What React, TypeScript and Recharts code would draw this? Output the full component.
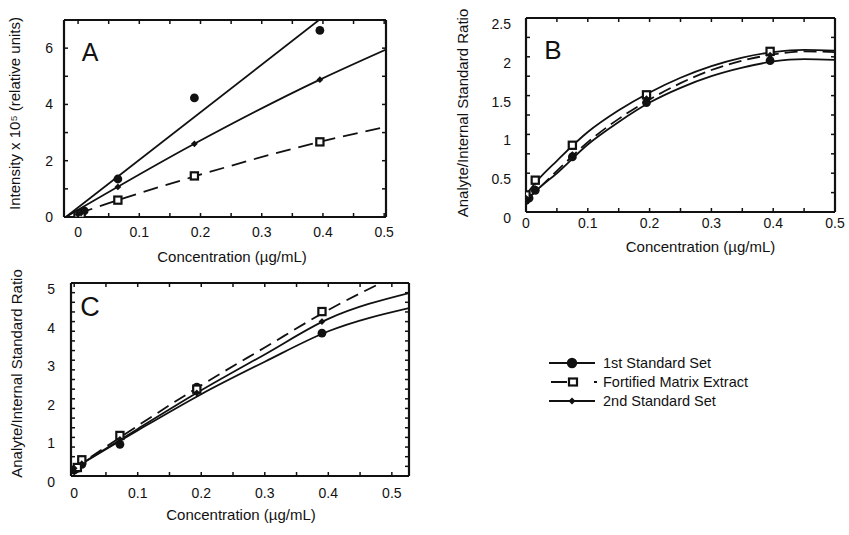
import React from 'react';
import { ComposedChart, Line, Scatter, XAxis, YAxis } from 'recharts';

const FONT = "'Liberation Sans', Arial, Helvetica, sans-serif";
const INK = '#111';

// ---------- text ----------
const seriesNames = ['1st Standard Set', 'Fortified Matrix Extract', '2nd Standard Set'];
const panelLetters = ['A', 'B', 'C'];
const xTitle = 'Concentration (µg/mL)';
const yTitleA = 'Intensity x 10⁵ (relative units)';
const yTitleBC = 'Analyte/Internal Standard Ratio';

// ---------- ticks ----------
const xMajor = [0, 0.1, 0.2, 0.3, 0.4, 0.5];
const xMajorLabels = ['0', '0.1', '0.2', '0.3', '0.4', '0.5'];
const xMinor = [0.05, 0.15, 0.25, 0.35, 0.45];

const aYMajor = [0, 2, 4, 6];
const aYMajorLabels = ['0', '2', '4', '6'];
const aYMinor = [1, 3, 5];

const bYMajor = [0, 0.5, 1, 1.5, 2, 2.5];
const bYMajorLabels = ['0', '0.5', '1', '1.5', '2', '2.5'];
const bYMinor = [0.25, 0.75, 1.25, 1.75, 2.25];

const cYMajor = [0, 1, 2, 3, 4, 5];
const cYMajorLabels = ['0', '1', '2', '3', '4', '5'];
const cYMinor = [0.25, 0.5, 0.75, 1.25, 1.5, 1.75, 2.25, 2.5, 2.75, 3.25, 3.5, 3.75, 4.25, 4.5, 4.75];

// ---------- panel A ----------
const aFirstX = [0, 0.005, 0.01, 0.065, 0.19, 0.395];
const aFirstY = [0.08, 0.15, 0.22, 1.35, 4.23, 6.63];
const aFortX = [0, 0.005, 0.065, 0.19, 0.395];
const aFortY = [0.06, 0.1, 0.6, 1.46, 2.67];
const aSecondX = [0, 0.005, 0.01, 0.065, 0.19, 0.395];
const aSecondY = [0.1, 0.14, 0.2, 1.07, 2.6, 4.88];
const aFirstFitX = [-0.02, 0.5];
const aFirstFitY = [0, 8.8];
const aFortFitX = [0, 0.065, 0.19, 0.395, 0.503];
const aFortFitY = [0.12, 0.6, 1.44, 2.67, 3.2];
const aSecondFitX = [-0.02, 0.19, 0.395, 0.503];
const aSecondFitY = [0, 2.6, 4.88, 5.95];

// ---------- panel B ----------
const bFirstX = [0, 0.005, 0.015, 0.075, 0.195, 0.395];
const bFirstY = [0.15, 0.18, 0.28, 0.71, 1.41, 1.95];
const bFortX = [0, 0.015, 0.075, 0.195, 0.395];
const bFortY = [0.22, 0.41, 0.86, 1.51, 2.07];
const bSecondX = [0, 0.015, 0.075, 0.195, 0.395];
const bSecondY = [0.18, 0.3, 0.74, 1.46, 2.02];
const bFitX = [0, 0.02, 0.05, 0.1, 0.15, 0.2, 0.25, 0.3, 0.35, 0.4, 0.45, 0.5];
const bFirstFitY = [0.15, 0.3, 0.5, 0.87, 1.16, 1.41, 1.6, 1.75, 1.86, 1.94, 1.97, 1.96];
const bFortFitY = [0.15, 0.3, 0.53, 0.9, 1.2, 1.45, 1.66, 1.83, 1.95, 2.03, 2.07, 2.06];
const bSecondFitY = [0.22, 0.42, 0.66, 1.03, 1.31, 1.54, 1.73, 1.88, 1.99, 2.06, 2.09, 2.08];

// ---------- panel C ----------
const cFirstX = [0, 0.005, 0.012, 0.072, 0.193, 0.39];
const cFirstY = [0.15, 0.2, 0.3, 0.82, 2.3, 3.7];
const cFortX = [0.005, 0.012, 0.072, 0.193, 0.39];
const cFortY = [0.22, 0.42, 1.05, 2.25, 4.26];
const cSecondX = [0, 0.012, 0.072, 0.193, 0.39];
const cSecondY = [0.2, 0.32, 0.95, 2.15, 4.0];
const cFitX = [0, 0.1, 0.2, 0.3, 0.4, 0.527];
const cFirstFitY = [0.2, 1.18, 2.12, 2.96, 3.75, 4.35];
const cFortFitY = [0.2, 1.3, 2.35, 3.33, 4.3, 5.35];
const cSecondFitY = [0.2, 1.22, 2.22, 3.15, 4.07, 4.74];

type Pt = { x: number; y: number };
const zip = (xs: number[], ys: number[]): Pt[] => xs.map((x, i) => ({ x, y: ys[i] }));

const CircleDot = (p: any) => <circle cx={p.cx} cy={p.cy} r={4.4} fill={INK} />;
const SquareDot = (p: any) => (
  <rect x={p.cx - 3.6} y={p.cy - 3.6} width={7.2} height={7.2} fill="#fff" stroke={INK} strokeWidth={2.2} />
);
const DiamondDot = (p: any) => {
  const s = 3.4;
  return (
    <polygon
      points={`${p.cx},${p.cy - s} ${p.cx + s},${p.cy} ${p.cx},${p.cy + s} ${p.cx - s},${p.cy}`}
      fill={INK}
    />
  );
};

interface PanelProps {
  left: number;
  top: number;
  width: number;
  height: number;
  margin: { top: number; right: number; bottom: number; left: number };
  yWidth: number;
  xHeight: number;
  xDomain: [number, number];
  yDomain: [number, number];
  yMajor: number[];
  yLabels: string[];
  yMinor: number[];
  yTitle: string;
  yTitleOffset: number;
  yTitleDy: number;
  xTitleOffset: number;
  xTitleDx: number;
  xTickMargin: number;
  yTickMargin: number;
  yTickDy: number;
  dash: string;
  fits: { data: Pt[]; dashed: boolean }[];
  points: { data: Pt[]; shape: any }[];
}

const axisLine = { stroke: INK, strokeWidth: 2.2 };
const tickLine = { stroke: INK, strokeWidth: 1.5 };

function Panel(p: PanelProps) {
  const xTicks = [...xMajor, ...xMinor].sort((a, b) => a - b);
  const yTicks = [...p.yMajor, ...p.yMinor].sort((a, b) => a - b);
  const fmtX = (v: number) => {
    const i = xMajor.indexOf(v);
    return i >= 0 ? xMajorLabels[i] : '';
  };
  const fmtY = (v: number) => {
    const i = p.yMajor.indexOf(v);
    return i >= 0 ? p.yLabels[i] : '';
  };
  const blank = () => '';
  const tickStyle = { fill: INK, fontSize: 14, fontFamily: FONT };
  return (
    <div style={{ position: 'absolute', left: p.left, top: p.top, width: p.width, height: p.height }}>
      <ComposedChart width={p.width} height={p.height} margin={p.margin}>
        <XAxis
          xAxisId="b"
          dataKey="x"
          type="number"
          domain={p.xDomain}
          allowDataOverflow
          ticks={xTicks}
          interval={0}
          tickFormatter={fmtX}
          tickSize={-4}
          tickMargin={p.xTickMargin}
          height={p.xHeight}
          axisLine={axisLine}
          tickLine={tickLine}
          tick={tickStyle}
          label={{
            value: xTitle,
            position: 'insideBottom',
            offset: p.xTitleOffset,
            dx: p.xTitleDx,
            style: { fill: INK, fontSize: 15, fontFamily: FONT },
          }}
        />
        <XAxis
          xAxisId="t"
          orientation="top"
          mirror
          dataKey="x"
          type="number"
          domain={p.xDomain}
          allowDataOverflow
          ticks={xTicks}
          interval={0}
          tickFormatter={blank}
          tickSize={4}
          axisLine={axisLine}
          tickLine={tickLine}
        />
        <YAxis
          yAxisId="l"
          dataKey="y"
          type="number"
          domain={p.yDomain}
          allowDataOverflow
          ticks={yTicks}
          interval={0}
          tickFormatter={fmtY}
          tickSize={-4}
          tickMargin={p.yTickMargin}
          width={p.yWidth}
          axisLine={axisLine}
          tickLine={tickLine}
          tick={{ ...tickStyle, dy: p.yTickDy }}
          label={{
            value: p.yTitle,
            position: 'insideLeft',
            angle: -90,
            offset: p.yTitleOffset,
            dy: p.yTitleDy,
            style: { fill: INK, fontSize: 15, fontFamily: FONT, textAnchor: 'middle' },
          }}
        />
        <YAxis
          yAxisId="r"
          orientation="right"
          mirror
          dataKey="y"
          type="number"
          domain={p.yDomain}
          allowDataOverflow
          ticks={yTicks}
          interval={0}
          tickFormatter={blank}
          tickSize={4}
          axisLine={axisLine}
          tickLine={tickLine}
        />
        {p.fits.map((f, i) => (
          <Line
            key={'f' + i}
            xAxisId="b"
            yAxisId="l"
            data={f.data}
            dataKey="y"
            type="monotone"
            stroke={INK}
            strokeWidth={1.8}
            strokeDasharray={f.dashed ? p.dash : undefined}
            dot={false}
            activeDot={false}
            isAnimationActive={false}
          />
        ))}
        {p.points.map((s, i) => (
          <Scatter
            key={'s' + i}
            xAxisId="b"
            yAxisId="l"
            data={s.data}
            dataKey="y"
            shape={s.shape}
            isAnimationActive={false}
          />
        ))}
      </ComposedChart>
    </div>
  );
}

export default function App() {
  return (
    <div
      style={{
        position: 'absolute',
        left: 0,
        top: 0,
        width: 849,
        height: 535,
        background: '#fff',
        overflow: 'hidden',
        fontFamily: FONT,
      }}
    >
      <Panel
        left={0}
        top={0}
        width={400}
        height={275}
        margin={{ top: 20, right: 14, bottom: 0, left: 0 }}
        yWidth={64}
        xHeight={58}
        xDomain={[-0.023, 0.503]}
        yDomain={[0, 7]}
        yMajor={aYMajor}
        yLabels={aYMajorLabels}
        yMinor={aYMinor}
        yTitle={yTitleA}
        yTitleOffset={15}
        yTitleDy={-5}
        xTitleOffset={13}
        xTitleDx={7}
        xTickMargin={14}
        yTickMargin={15}
        yTickDy={0}
        dash="15 8"
        fits={[
          { data: zip(aFirstFitX, aFirstFitY), dashed: false },
          { data: zip(aFortFitX, aFortFitY), dashed: true },
          { data: zip(aSecondFitX, aSecondFitY), dashed: false },
        ]}
        points={[
          { data: zip(aFirstX, aFirstY), shape: CircleDot },
          { data: zip(aFortX, aFortY), shape: SquareDot },
          { data: zip(aSecondX, aSecondY), shape: DiamondDot },
        ]}
      />
      <Panel
        left={440}
        top={0}
        width={409}
        height={260}
        margin={{ top: 18, right: 14, bottom: 0, left: 0 }}
        yWidth={86}
        xHeight={48}
        xDomain={[0, 0.5]}
        yDomain={[0, 2.5]}
        yMajor={bYMajor}
        yLabels={bYMajorLabels}
        yMinor={bYMinor}
        yTitle={yTitleBC}
        yTitleOffset={23}
        yTitleDy={-2}
        xTitleOffset={8}
        xTitleDx={20}
        xTickMargin={10}
        yTickMargin={19}
        yTickDy={6}
        dash="13 6"
        fits={[
          { data: zip(bFitX, bFirstFitY), dashed: false },
          { data: zip(bFitX, bFortFitY), dashed: true },
          { data: zip(bFitX, bSecondFitY), dashed: false },
        ]}
        points={[
          { data: zip(bFirstX, bFirstY), shape: CircleDot },
          { data: zip(bFortX, bFortY), shape: SquareDot },
          { data: zip(bSecondX, bSecondY), shape: DiamondDot },
        ]}
      />
      <Panel
        left={0}
        top={265}
        width={420}
        height={270}
        margin={{ top: 18, right: 11, bottom: 0, left: 0 }}
        yWidth={71}
        xHeight={59}
        xDomain={[-0.005, 0.527]}
        yDomain={[0, 5]}
        yMajor={cYMajor}
        yLabels={cYMajorLabels}
        yMinor={cYMinor}
        yTitle={yTitleBC}
        yTitleOffset={17}
        yTitleDy={-6}
        xTitleOffset={15}
        xTitleDx={1}
        xTickMargin={16}
        yTickMargin={20}
        yTickDy={6}
        dash="13 7"
        fits={[
          { data: zip(cFitX, cFirstFitY), dashed: false },
          { data: zip(cFitX, cFortFitY), dashed: true },
          { data: zip(cFitX, cSecondFitY), dashed: false },
        ]}
        points={[
          { data: zip(cFirstX, cFirstY), shape: CircleDot },
          { data: zip(cFortX, cFortY), shape: SquareDot },
          { data: zip(cSecondX, cSecondY), shape: DiamondDot },
        ]}
      />
      <svg
        width={849}
        height={535}
        style={{ position: 'absolute', left: 0, top: 0, pointerEvents: 'none' }}
      >
        <g fontFamily={FONT} fill={INK} textAnchor="middle" dominantBaseline="central">
          <text x={90} y={52} fontSize={25}>{panelLetters[0]}</text>
          <text x={553} y={50} fontSize={26}>{panelLetters[1]}</text>
          <text x={90} y={307} fontSize={27}>{panelLetters[2]}</text>
        </g>
        <g stroke={INK} strokeWidth={2}>
          <line x1={549} y1={363} x2={595} y2={363} />
          <line x1={551} y1={382} x2={567} y2={382} />
          <line x1={594} y1={382} x2={597} y2={382} />
          <line x1={549} y1={401} x2={595} y2={401} />
        </g>
        <circle cx={572} cy={363} r={5.2} fill={INK} />
        <rect x={569} y={378.5} width={8} height={7} fill="#fff" stroke={INK} strokeWidth={2.2} />
        <polygon points="572,397.5 575.5,401 572,404.5 568.5,401" fill={INK} />
        <g fontFamily={FONT} fontSize={14.5} fill={INK}>
          <text x={603} y={368}>{seriesNames[0]}</text>
          <text x={603} y={387}>{seriesNames[1]}</text>
          <text x={603} y={406}>{seriesNames[2]}</text>
        </g>
      </svg>
    </div>
  );
}
